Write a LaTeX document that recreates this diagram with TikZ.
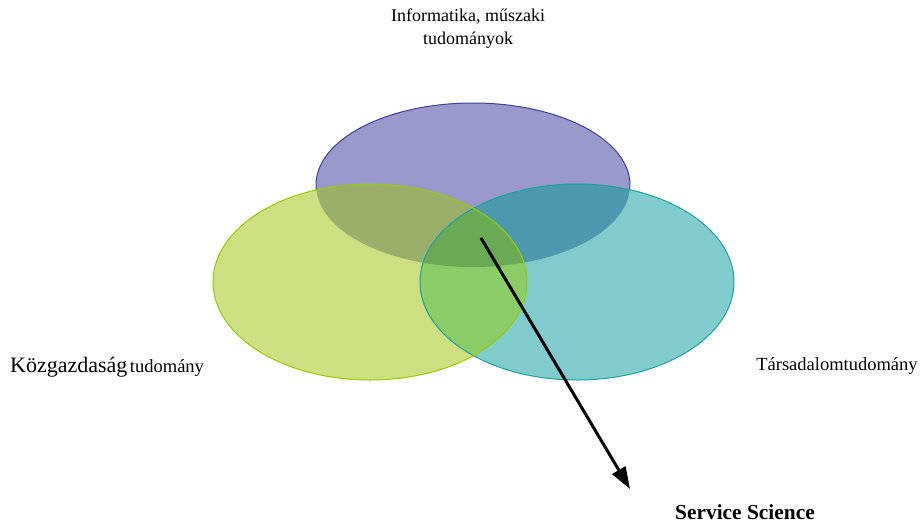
\documentclass[tikz,border=0pt]{standalone}
\usepackage{fontspec}
\setmainfont{Liberation Serif}
\usetikzlibrary{arrows.meta}
\definecolor{cP}{HTML}{9999CC}
\definecolor{cPo}{HTML}{3F3F99}
\definecolor{cG}{HTML}{CCE082}
\definecolor{cGo}{HTML}{99CC00}
\definecolor{cT}{HTML}{80CCCC}
\definecolor{cTo}{HTML}{1F9F9F}
\definecolor{cPG}{HTML}{99AF6A}
\definecolor{cPT}{HTML}{4C99AF}
\definecolor{cGT}{HTML}{8ACC66}
\definecolor{cPGT}{HTML}{6AAA55}
\tikzset{
  lbl/.style={inner sep=0pt, align=center},
  arr/.style={line width=3pt, -{Triangle[length=22pt,width=15pt]}},
}
\newcommand{\ellP}{(473,185) ellipse [x radius=157, y radius=82]}
\newcommand{\ellG}{(370,282) ellipse [x radius=157, y radius=98]}
\newcommand{\ellT}{(577,282) ellipse [x radius=157, y radius=98]}
\begin{document}
\begin{tikzpicture}[x=1pt,y=-1pt]
\useasboundingbox (0,0) rectangle (920,525);
\fill[white] (0,0) rectangle (920,525);
% base fills
\fill[cP] \ellP;
\draw[cPo, line width=1pt] \ellP;
\fill[cG] \ellG;
\fill[cT] \ellT;
% overlaps
\begin{scope}\clip \ellP; \fill[cPG] \ellG; \end{scope}
\begin{scope}\clip \ellP; \fill[cPT] \ellT; \end{scope}
\begin{scope}\clip \ellG; \fill[cGT] \ellT; \end{scope}
\begin{scope}\clip \ellP; \clip \ellG; \fill[cPGT] \ellT; \end{scope}
% outlines
\draw[cTo, line width=1pt] \ellT;
\draw[cGo, line width=1pt] \ellG;
% labels
\node[lbl, font=\fontsize{18}{23}\selectfont] (info) at (468,29) {Informatika, műszaki\\tudományok};
\node[lbl, anchor=west] (kozg) at (10,367) {{\fontsize{22}{26}\selectfont Közgazdaság} {\fontsize{18.5}{22}\selectfont tudomány}};
\node[lbl, font=\fontsize{18.5}{22}\selectfont] (tars) at (837,366) {Társadalomtudomány};
\node[lbl, font=\fontsize{21.4}{25}\selectfont\bfseries] (ss) at (745,512) {Service Science};
% arrow
\coordinate (astart) at (481,238);
\coordinate (aend) at (630,489);
\draw[arr] (astart) -- (aend);
\end{tikzpicture}
\end{document}
